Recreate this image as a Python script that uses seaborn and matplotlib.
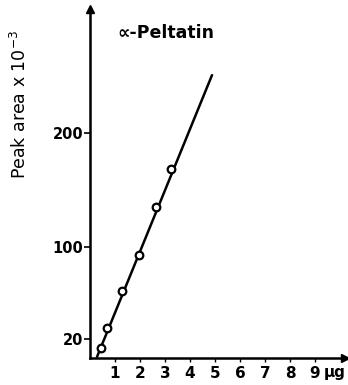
import matplotlib
matplotlib.use("Agg")
import matplotlib.pyplot as plt
import seaborn as sns
import pandas as pd

# Data
amount_ug = [0.44, 0.68, 1.28, 1.96, 2.64, 3.24]
peak_area = [12, 29, 62, 93, 135, 169]
fit_x = [0.28, 4.88]
fit_y = [4, 251]
x_ticks = [1, 2, 3, 4, 5, 6, 7, 8, 9]
y_ticks = [20, 100, 200]
title_text = "\u221d-Peltatin"
y_label = r"Peak area x 10$^{-3}$"
x_unit = "\u00b5g"

sns.set_style("ticks")
plt.rcParams['font.family'] = ['DejaVu Sans']
plt.rcParams['text.color'] = 'black'

fig = plt.figure(figsize=(3.48, 3.85), dpi=100)
ax = fig.add_axes([90/348, 1-358/385, 255/348, 349/385])

pts = pd.DataFrame({"x": amount_ug, "y": peak_area})
fit = pd.DataFrame({"x": fit_x, "y": fit_y})
sns.lineplot(data=fit, x="x", y="y", ax=ax, color="black", linewidth=1.8)
sns.scatterplot(data=pts, x="x", y="y", ax=ax, marker="o", s=30,
                facecolor="white", edgecolor="black", linewidth=1.6, zorder=3)

ax.set_xlim(0, 10.2)
ax.set_ylim(3, 309)
for s in ["top", "right"]:
    ax.spines[s].set_visible(False)
for s in ["left", "bottom"]:
    ax.spines[s].set_linewidth(1.8)
    ax.spines[s].set_color("black")

ax.set_xticks(x_ticks)
ax.set_xticklabels([str(v) for v in x_ticks], fontsize=11, fontweight="bold")
ax.set_yticks(y_ticks)
ax.set_yticklabels([str(v) for v in y_ticks], fontsize=10.5, fontweight="bold")
ax.tick_params(axis="y", length=4, width=1.2, pad=1, colors="black")
ax.tick_params(axis="x", length=3, width=1.0, pad=3, colors="black")
ax.set_xlabel("")
ax.set_ylabel("")

# arrows on axes
ax.plot(1, 0, ">k", transform=ax.transAxes, clip_on=False, markersize=6)
ax.plot(0, 1, "^k", transform=ax.transAxes, clip_on=False, markersize=6)

ax.text(9.35, -0.02, x_unit, transform=ax.get_xaxis_transform(), fontsize=11,
        fontweight="bold", va="top", ha="left", color="black")
fig.text(117/348, 1-33/385, title_text, fontsize=12.5, fontweight="semibold",
         va="center", ha="left", color="black")
fig.text(20/348, 1-104/385, y_label, fontsize=12.5, rotation=90,
         va="center", ha="center", color="black")

fig.savefig("out.png", dpi=100)
